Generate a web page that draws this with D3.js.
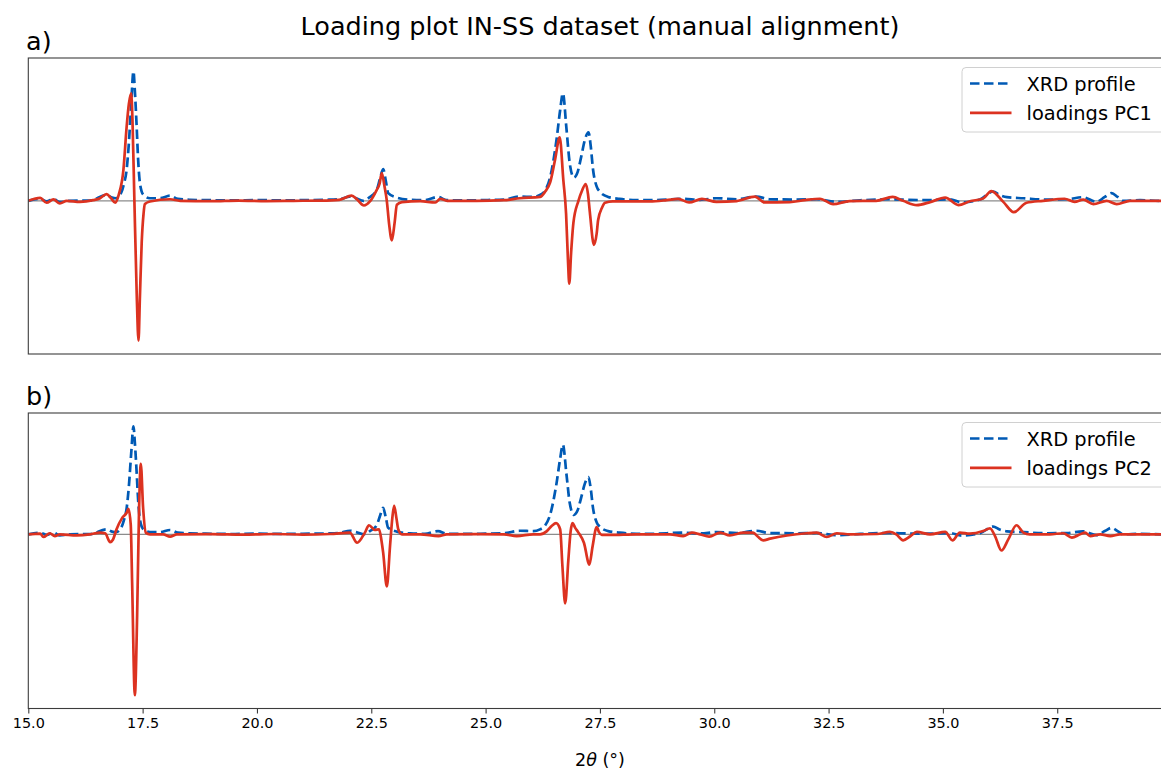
<!DOCTYPE html>
<html>
<head>
<meta charset="utf-8">
<script src="https://cdn.jsdelivr.net/npm/d3@7"></script>
<style>
  html, body { margin: 0; padding: 0; background: #ffffff; }
  svg { display: block; font-family: "DejaVu Sans", sans-serif; }
</style>
</head>
<body>
<svg id="chart" width="1161" height="771"></svg>
<script>
// 2θ (°) / normalised intensity pairs for the reference XRD profile
const xrdProfile = [
  [15.00, 0.0], [15.26, 0.015], [15.40, -0.005], [15.55, 0.015], [15.69, -0.01],
  [15.91, 0.0], [16.35, 0.002], [16.71, 0.046], [16.83, 0.025], [16.92, 0.02],
  [17.04, 0.07], [17.09, 0.13], [17.15, 0.24], [17.20, 0.45], [17.25, 0.75],
  [17.30, 1.0], [17.33, 0.85], [17.37, 0.57], [17.40, 0.33], [17.44, 0.14],
  [17.51, 0.05], [17.66, 0.02], [17.88, 0.02], [18.10, 0.04], [18.27, 0.015],
  [18.54, 0.008], [19.0, 0.005], [19.5, 0.003], [20.0, 0.006], [20.5, 0.004],
  [21.0, 0.005], [21.5, 0.008], [21.8, 0.012], [22.03, 0.033], [22.17, 0.02],
  [22.33, 0.0], [22.47, 0.03], [22.62, 0.085], [22.69, 0.17], [22.76, 0.245],
  [22.82, 0.15], [22.87, 0.06], [23.06, 0.025], [23.35, 0.008], [23.67, 0.005],
  [23.96, 0.03], [24.15, 0.005], [24.6, 0.004], [25.0, 0.006], [25.4, 0.01],
  [25.75, 0.033], [26.04, 0.03], [26.19, 0.046], [26.30, 0.08], [26.41, 0.18],
  [26.55, 0.47], [26.63, 0.7], [26.69, 0.83], [26.77, 0.55], [26.84, 0.29],
  [26.93, 0.18], [27.01, 0.22], [27.09, 0.34], [27.17, 0.47], [27.25, 0.53],
  [27.30, 0.42], [27.35, 0.24], [27.43, 0.11], [27.50, 0.07], [27.68, 0.03],
  [27.93, 0.015], [28.3, 0.005], [28.59, 0.005], [29.32, 0.015], [29.69, 0.008],
  [30.05, 0.02], [30.49, 0.012], [30.92, 0.033], [31.21, 0.012], [31.77, 0.01],
  [32.24, 0.012], [32.68, -0.008], [33.19, 0.004], [33.84, 0.012], [34.21, 0.008],
  [34.72, 0.006], [35.15, 0.012], [35.41, -0.012], [35.81, 0.01], [36.10, 0.072],
  [36.24, 0.045], [36.40, 0.028], [36.76, 0.02], [37.23, 0.01], [37.71, 0.012],
  [38.06, 0.028], [38.36, -0.008], [38.54, 0.03], [38.69, 0.06], [38.82, 0.03],
  [38.94, 0.0], [39.31, 0.005], [39.77, 0.0], [40.0, 0.0]
];

// loadings of the first principal component
const loadingsPC1 = [
  [15.00, 0.0], [15.26, 0.023], [15.40, -0.015], [15.55, 0.011], [15.69, -0.02],
  [15.84, 0.0], [16.13, -0.008], [16.42, 0.005], [16.57, 0.02], [16.71, 0.052],
  [16.81, 0.02], [16.90, -0.014], [16.98, 0.05], [17.08, 0.24], [17.15, 0.57],
  [17.20, 0.75], [17.25, 0.83], [17.28, 0.6], [17.32, 0.0], [17.37, -0.71],
  [17.41, -1.08], [17.44, -0.75], [17.48, -0.32], [17.52, -0.1], [17.55, -0.025],
  [17.66, -0.005], [18.10, 0.012], [18.32, 0.0], [19.0, -0.003], [19.6, 0.002],
  [20.2, -0.002], [20.8, 0.0], [21.4, 0.002], [21.8, 0.008], [22.07, 0.04],
  [22.19, 0.01], [22.34, -0.036], [22.47, -0.005], [22.62, 0.085], [22.68, 0.13],
  [22.73, 0.215], [22.79, 0.11], [22.84, 0.0], [22.89, -0.18], [22.95, -0.305],
  [23.01, -0.17], [23.06, -0.03], [23.17, -0.01], [23.57, -0.003], [23.90, -0.013],
  [24.01, 0.015], [24.16, 0.0], [24.8, 0.0], [25.4, 0.005], [25.75, 0.02],
  [26.19, 0.03], [26.30, 0.07], [26.41, 0.14], [26.52, 0.32], [26.62, 0.49],
  [26.70, 0.16], [26.76, -0.1], [26.80, -0.45], [26.83, -0.64], [26.87, -0.4],
  [26.92, -0.17], [27.03, 0.0], [27.11, 0.08], [27.19, 0.13], [27.24, 0.05],
  [27.28, -0.09], [27.37, -0.34], [27.43, -0.25], [27.46, -0.15], [27.55, -0.05],
  [27.61, -0.015], [27.78, -0.004], [28.3, -0.005], [28.59, -0.005], [28.96, 0.005],
  [29.21, 0.015], [29.45, -0.012], [29.73, 0.015], [30.05, -0.008], [30.49, -0.002],
  [30.89, 0.033], [31.10, -0.012], [31.65, -0.01], [31.98, 0.005], [32.31, 0.016],
  [32.60, -0.026], [32.96, -0.002], [33.54, 0.0], [33.90, 0.03], [34.13, 0.0],
  [34.43, -0.033], [34.72, -0.01], [35.05, 0.025], [35.34, -0.033], [35.59, -0.003],
  [35.88, 0.018], [36.06, 0.075], [36.32, -0.008], [36.55, -0.088], [36.83, -0.015],
  [37.19, 0.0], [37.66, 0.016], [37.88, -0.008], [38.07, 0.01], [38.29, -0.025],
  [38.58, 0.0], [38.80, -0.025], [39.09, 0.0], [39.77, 0.0], [40.0, 0.0]
];

// loadings of the second principal component
const loadingsPC2 = [
  [15.00, 0.0], [15.26, 0.006], [15.33, -0.025], [15.47, 0.01], [15.58, -0.016],
  [15.69, 0.0], [16.06, -0.01], [16.35, 0.0], [16.57, 0.016], [16.68, 0.01],
  [16.79, -0.072], [16.85, -0.05], [16.93, 0.047], [17.05, 0.15], [17.15, 0.2],
  [17.19, 0.235], [17.24, 0.09], [17.27, -0.44], [17.33, -1.49], [17.38, -0.75],
  [17.42, 0.19], [17.46, 0.654], [17.51, 0.25], [17.57, 0.016], [17.66, 0.0],
  [17.95, 0.0], [18.10, -0.022], [18.25, 0.0], [19.0, 0.002], [19.7, -0.003],
  [20.4, 0.003], [21.0, -0.002], [21.6, 0.003], [22.03, 0.016], [22.19, -0.078],
  [22.36, 0.016], [22.45, 0.084], [22.58, 0.04], [22.67, 0.047], [22.72, -0.05],
  [22.76, -0.17], [22.84, -0.483], [22.91, -0.11], [22.96, 0.15], [23.00, 0.265],
  [23.05, 0.15], [23.09, 0.047], [23.17, 0.0], [23.57, 0.0], [23.97, -0.016],
  [24.15, 0.0], [24.8, 0.002], [25.4, 0.0], [25.68, -0.016], [26.04, 0.0],
  [26.19, 0.0], [26.34, 0.03], [26.45, 0.08], [26.54, 0.103], [26.63, 0.047],
  [26.68, -0.296], [26.74, -0.64], [26.81, -0.234], [26.86, 0.03], [26.90, 0.103],
  [26.96, 0.06], [27.03, 0.016], [27.15, -0.078], [27.27, -0.28], [27.34, -0.11],
  [27.43, 0.068], [27.48, 0.02], [27.54, -0.006], [27.72, -0.006], [28.3, 0.0],
  [28.59, 0.0], [29.03, 0.0], [29.32, -0.016], [29.51, 0.016], [29.69, 0.0],
  [29.89, -0.022], [30.13, 0.016], [30.34, -0.01], [30.64, 0.016], [30.85, 0.016],
  [30.95, -0.02], [31.07, -0.056], [31.22, -0.04], [32.02, 0.01], [32.24, 0.016],
  [32.46, -0.025], [32.68, 0.01], [32.97, 0.0], [33.56, 0.003], [33.84, 0.022],
  [33.98, 0.0], [34.13, -0.056], [34.28, -0.02], [34.43, 0.022], [34.72, 0.0],
  [35.05, 0.022], [35.21, -0.056], [35.37, 0.016], [35.59, 0.006], [35.88, 0.03],
  [36.03, 0.056], [36.14, -0.016], [36.28, -0.15], [36.43, -0.047], [36.61, 0.084],
  [36.76, 0.016], [36.90, 0.0], [37.34, 0.0], [37.63, 0.01], [37.82, -0.03],
  [38.0, 0.0], [38.11, 0.016], [38.22, -0.016], [38.44, 0.0], [38.66, -0.016],
  [38.87, 0.0], [39.77, 0.0], [40.0, 0.0]
];

const xDomain = [15, 40];
const xTicks = [15.0, 17.5, 20.0, 22.5, 25.0, 27.5, 30.0, 32.5, 35.0, 37.5];

const panels = [
  { tag: "a)", loadings: loadingsPC1, label: "loadings PC1" },
  { tag: "b)", loadings: loadingsPC2, label: "loadings PC2" }
];

const titleText = "Loading plot IN-SS dataset (manual alignment)";

// ---- layout & style ----
const BLUE = "#005AB5";
const RED = "#DC3220";
const plotLeft = 28.3;
const pxPerDeg = 45.73;
const panelBoxes = [
  { top: 58, bottom: 354 },
  { top: 413, bottom: 708.5 }
];

const svg = d3.select("#chart");
svg.append("rect").attr("width", 1161).attr("height", 771).attr("fill", "#fff");

const x = d3.scaleLinear()
  .domain(xDomain)
  .range([plotLeft, plotLeft + (xDomain[1] - xDomain[0]) * pxPerDeg]);

svg.append("text")
  .attr("x", 600).attr("y", 35)
  .attr("text-anchor", "middle")
  .attr("font-size", 25.5)
  .attr("fill", "#000")
  .text(titleText);

panels.forEach((p, i) => {
  const box = panelBoxes[i];
  // y range from data extent with 5% padding
  const all = xrdProfile.map(d => d[1]).concat(p.loadings.map(d => d[1]));
  const [lo, hi] = d3.extent(all);
  const pad = (hi - lo) * 0.05;
  const y = d3.scaleLinear().domain([lo - pad, hi + pad]).range([box.bottom, box.top]);

  const g = svg.append("g");
  const clipId = "clip" + i;
  svg.append("clipPath").attr("id", clipId)
    .append("rect")
    .attr("x", x.range()[0]).attr("y", box.top)
    .attr("width", x.range()[1] - x.range()[0])
    .attr("height", box.bottom - box.top);

  const plot = g.append("g").attr("clip-path", `url(#${clipId})`);

  // zero reference line
  plot.append("line")
    .attr("x1", x.range()[0]).attr("x2", x.range()[1])
    .attr("y1", y(0)).attr("y2", y(0))
    .attr("stroke", "#8c8c8c").attr("stroke-width", 1.2);

  const line = d3.line()
    .x(d => x(d[0]))
    .y(d => y(d[1]))
    .curve(d3.curveMonotoneX);

  plot.append("path")
    .datum(xrdProfile)
    .attr("d", line)
    .attr("fill", "none")
    .attr("stroke", BLUE)
    .attr("stroke-width", 2.7)
    .attr("stroke-dasharray", "9.5,4.5");

  plot.append("path")
    .datum(p.loadings)
    .attr("d", line)
    .attr("fill", "none")
    .attr("stroke", RED)
    .attr("stroke-width", 2.7)
    .attr("stroke-linejoin", "round");

  // frame
  g.append("rect")
    .attr("x", x.range()[0]).attr("y", box.top)
    .attr("width", x.range()[1] - x.range()[0])
    .attr("height", box.bottom - box.top)
    .attr("fill", "none")
    .attr("stroke", "#3c3c3c")
    .attr("stroke-width", 1.1);

  // panel tag
  svg.append("text")
    .attr("x", 26).attr("y", box.top - 8)
    .attr("font-size", 25.5)
    .attr("fill", "#000")
    .text(p.tag);

  // legend
  const lg = svg.append("g").attr("transform", `translate(962, ${box.top + 9.5})`);
  lg.append("rect")
    .attr("x", 0).attr("y", 0)
    .attr("width", 230).attr("height", 64.5)
    .attr("rx", 4)
    .attr("fill", "#fff").attr("fill-opacity", 0.8)
    .attr("stroke", "#d0d0d0").attr("stroke-width", 1);
  const items = [
    { text: "XRD profile", color: BLUE, dash: "9.5,4.5" },
    { text: p.label, color: RED, dash: null }
  ];
  items.forEach((it, k) => {
    const yy = 16 + k * 29.3;
    const ln = lg.append("line")
      .attr("x1", 8).attr("x2", 49.5)
      .attr("y1", yy).attr("y2", yy)
      .attr("stroke", it.color).attr("stroke-width", 2.7);
    if (it.dash) ln.attr("stroke-dasharray", it.dash);
    lg.append("text")
      .attr("x", 64.5).attr("y", yy + 7)
      .attr("font-size", 19.4)
      .attr("fill", "#000")
      .text(it.text);
  });

  // x axis only on the bottom panel
  if (i === panels.length - 1) {
    const axis = d3.axisBottom(x)
      .tickValues(xTicks)
      .tickFormat(d3.format(".1f"))
      .tickSize(5)
      .tickPadding(4);
    const ax = svg.append("g")
      .attr("transform", `translate(0, ${box.bottom})`)
      .call(axis);
    ax.select(".domain").remove();
    ax.selectAll(".tick line").attr("stroke", "#3c3c3c").attr("stroke-width", 1.1);
    ax.selectAll(".tick text")
      .attr("font-size", 14.4)
      .attr("font-family", "DejaVu Sans, sans-serif")
      .attr("fill", "#000");

    const xl = svg.append("text")
      .attr("x", 600).attr("y", 766)
      .attr("text-anchor", "middle")
      .attr("font-size", 17.5)
      .attr("fill", "#000");
    xl.append("tspan").text("2");
    xl.append("tspan").attr("font-style", "italic").text("θ");
    xl.append("tspan").text(" (°)");
  }
});
</script>
</body>
</html>
